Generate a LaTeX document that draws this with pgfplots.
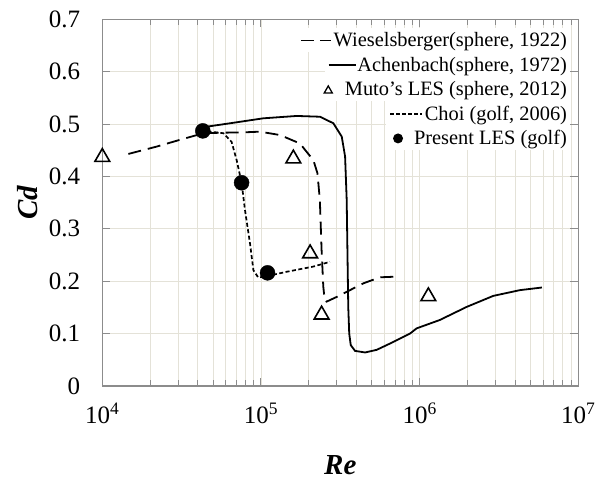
\documentclass[border=0pt]{standalone}
\usepackage{fontspec}
\setmainfont{Liberation Serif}
\usepackage{pgfplots}
\pgfplotsset{compat=1.18}
\usetikzlibrary{calc}
\definecolor{gridc}{RGB}{228,226,216}
\definecolor{axisc}{RGB}{140,140,140}

\begin{document}
\begin{tikzpicture}
\begin{axis}[
    name=ax,
    scale only axis,
    width=476pt, height=366.7pt,
    xmode=log,
    xmin=1e4, xmax=1e7, ymin=0, ymax=0.7,
    xtick={1e4,1e5,1e6,1e7},
    xticklabels={10\textsuperscript{4},10\textsuperscript{5},10\textsuperscript{6},10\textsuperscript{7}},
    minor xtick={2e4,3e4,4e4,5e4,6e4,7e4,8e4,9e4,2e5,3e5,4e5,5e5,6e5,7e5,8e5,9e5,2e6,3e6,4e6,5e6,6e6,7e6,8e6,9e6},
    ytick={0,0.1,0.2,0.3,0.4,0.5,0.6,0.7},
    yticklabels={0,0.1,0.2,0.3,0.4,0.5,0.6,0.7},
    grid=both,
    major grid style={gridc, line width=0.9pt},
    minor grid style={gridc, line width=0.9pt},
    axis line style={axisc, line width=1.3pt},
    tick style={axisc, line width=1pt},
    tick align=inside,
    major tick length=8pt, minor tick length=6pt,
    tick label style={font=\fontsize{25}{30}\selectfont},
    xticklabel style={anchor=north, inner sep=0pt, yshift=-17pt},
    yticklabel style={anchor=east, inner sep=0pt, xshift=-22pt},
    xlabel={\textbf{\textit{Re}}},
    ylabel={\textbf{\textit{Cd}}},
    label style={font=\fontsize{29}{34}\selectfont, inner sep=0pt},
    xlabel style={at={(axis description cs:0.5,-0.215)}, anchor=center},
    ylabel style={at={(axis description cs:-0.157,0.5)}, anchor=center},
    clip=false,
    legend cell align=right,
    legend style={at={(axis description cs:0.983,0.977)}, anchor=north east,
        draw=none, fill=none, inner sep=0pt, row sep=0pt,
        font=\fontsize{20.4}{24}\selectfont,
        nodes={fill=white, inner xsep=3pt, inner ysep=0pt, text height=19pt, text depth=5.5pt}},
]
% Wieselsberger (sphere, 1922)
\addplot[black, line width=1.8pt, dash pattern=on 13pt off 7pt, legend image code/.code={}] coordinates {
  (1.46e4,0.443) (2.2e4,0.457) (3.09e4,0.470) (4.34e4,0.4825) (5.8e4,0.4836)
  (7.5e4,0.484) (9.86e4,0.4855) (1.32e5,0.479) (1.76e5,0.463) (2.14e5,0.431)
  (2.27e5,0.406) (2.35e5,0.355) (2.41e5,0.26) (2.47e5,0.19) (2.52e5,0.165)
  (2.59e5,0.161) (3.0e5,0.170) (4.42e5,0.196) (5.62e5,0.2075) (7.5e5,0.209)
};
\addlegendentry{\tikz[baseline=-6.5pt]\draw[line width=1.8pt, dash pattern=on 13pt off 6pt] (0pt,0pt)--(30pt,0pt);\hspace{2pt}Wieselsberger(sphere, 1922)}
% Achenbach (sphere, 1972)
\addplot[black, line width=1.8pt, legend image code/.code={}] coordinates {
  (4.3e4,0.492) (4.55e4,0.495) (6.38e4,0.5015) (1.035e5,0.511) (1.68e5,0.5155)
  (2.355e5,0.514) (2.86e5,0.5015) (3.23e5,0.476) (3.39e5,0.438) (3.47e5,0.355)
  (3.51e5,0.25) (3.55e5,0.15) (3.6e5,0.10) (3.68e5,0.078) (3.92e5,0.067)
  (4.53e5,0.064) (5.36e5,0.069) (6.5e5,0.081) (8.69e5,0.100) (9.57e5,0.110)
  (1.34e6,0.126) (1.98e6,0.151) (2.91e6,0.172) (4.29e6,0.183) (5.9e6,0.188)
};
\addlegendentry{\tikz[baseline=-6.5pt]\draw[line width=1.8pt] (0pt,0pt)--(27pt,0pt);\hspace{1pt}Achenbach(sphere, 1972)}
% Muto's LES (sphere, 2012)
\addplot[only marks, mark=triangle, mark size=8.5pt, mark options={black, line width=1.6pt}, legend image code/.code={}] coordinates {
  (1e4,0.437) (1.6e5,0.434) (2.04e5,0.253) (2.41e5,0.136) (1.135e6,0.171)
};
\addlegendentry{\tikz[baseline=-3pt]\draw[line width=1.3pt, line join=miter] (0pt,0pt)--(8pt,0pt)--(4pt,7pt)--cycle;\hspace{12pt}Muto's LES (sphere, 2012)}
% Choi (golf, 2006)
\addplot[black, line width=1.7pt, dash pattern=on 4pt off 2.5pt, legend image code/.code={}] coordinates {
  (4.6e4,0.486) (5.8e4,0.4825) (6.53e4,0.466) (7.03e4,0.431) (7.55e4,0.388)
  (7.93e4,0.336) (8.53e4,0.272) (8.96e4,0.221) (9.62e4,0.207) (1.1e5,0.21)
  (1.45e5,0.218) (2.14e5,0.228) (2.72e5,0.237)
};
\addlegendentry{\tikz[baseline=-6.5pt]\draw[line width=1.5pt, dash pattern=on 3.5pt off 2.5pt] (0pt,0pt)--(32pt,0pt);\hspace{2pt}Choi (golf, 2006)}
% Present LES (golf)
\addplot[only marks, mark=*, mark size=7.5pt, mark options={black, fill=black}, legend image code/.code={}] coordinates {
  (4.3e4,0.487) (7.55e4,0.388) (1.10e5,0.216)
};
\addlegendentry{\tikz[baseline=-6.5pt]\fill (5pt,0pt) circle (5pt);\hspace{11pt}Present LES (golf)}
\end{axis}
\pgfresetboundingbox
\path (ax.south west) ++(-102.3pt,-95pt) rectangle ($(ax.north east)+(31.7pt,19.3pt)$);
\end{tikzpicture}
\end{document}
